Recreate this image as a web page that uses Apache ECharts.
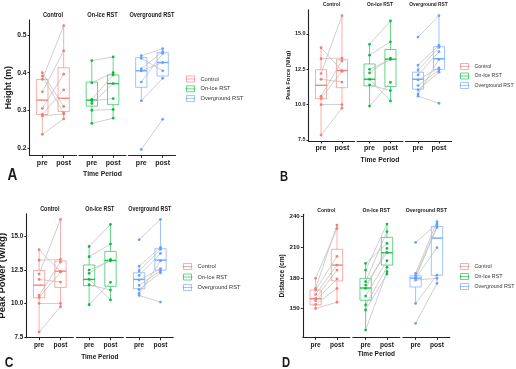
<!DOCTYPE html>
<html><head><meta charset="utf-8">
<script src="https://cdn.jsdelivr.net/npm/echarts@6/dist/echarts.min.js"></script>
<style>html,body{margin:0;padding:0;background:#fff}#c{width:516px;height:369px}</style>
</head><body><div id="c"></div>
<script>
// ---------- data ----------
const timePeriods = ['pre', 'post'];
const groupNames = ['Control', 'On-Ice RST', 'Overground RST'];

// Panel A: Height (m)  — paired subjects (pre[i] -> post[i])
const heightControlPre  = [0.382, 0.349, 0.400, 0.391, 0.305, 0.289, 0.285, 0.236];
const heightControlPost = [0.525, 0.458, 0.310, 0.293, 0.396, 0.354, 0.290, 0.277];
const heightIcePre      = [0.432, 0.373, 0.329, 0.325, 0.300, 0.265, 0.318];
const heightIcePost     = [0.442, 0.400, 0.394, 0.331, 0.302, 0.279, 0.371];
const heightOverPre     = [0.445, 0.438, 0.410, 0.405, 0.375, 0.325, 0.196];
const heightOverPost    = [0.464, 0.405, 0.456, 0.427, 0.451, 0.385, 0.276];
// box stats [min, Q1, median, Q3, max] (whiskers)
const heightControlPreBox  = [0.236, 0.289, 0.327, 0.382, 0.400];
const heightControlPostBox = [0.277, 0.297, 0.332, 0.413, 0.525];
const heightIcePreBox      = [0.265, 0.311, 0.327, 0.375, 0.432];
const heightIcePostBox     = [0.279, 0.315, 0.371, 0.394, 0.442];
const heightOverPreBox     = [0.325, 0.361, 0.405, 0.440, 0.445];
const heightOverPostBox    = [0.385, 0.391, 0.427, 0.453, 0.464];
const heightTicks = [0.2, 0.3, 0.4, 0.5];

// Panel B: Peak Force (N/kg)
const forceControlPre  = [14.03, 13.25, 12.2, 11.8, 10.6, 10.0, 7.85, 10.45];
const forceControlPost = [12.4, 13.3, 16.3, 11.6, 13.1, 10.0, 9.75, 12.35];
const forceIcePre      = [14.27, 13.5, 12.25, 11.8, 11.4, 9.9, 12.5];
const forceIcePost     = [15.92, 14.45, 13.3, 10.26, 11.0, 11.58, 13.2];
const forceOverPre     = [14.78, 12.8, 12.45, 12.1, 11.75, 11.35, 11.05, 10.75, 10.6];
const forceOverPost    = [16.3, 14.2, 14.05, 13.75, 12.6, 12.45, 12.3, 13.2, 10.1];
const forceControlPreBox  = [7.85, 10.42, 11.37, 12.47, 14.03];
const forceControlPostBox = [9.75, 11.2, 12.42, 13.18, 16.3];
const forceIcePreBox      = [9.9, 11.33, 11.8, 12.88, 14.27];
const forceIcePostBox     = [10.26, 11.28, 13.22, 13.9, 15.92];
const forceOverPreBox     = [10.6, 11.1, 11.8, 12.3, 12.8];
const forceOverPostBox    = [12.3, 12.5, 13.25, 14.1, 16.3];
const forceTicks = [7.5, 10, 12.5, 15];

// Panel C: Peak Power (W/kg)
const powerControlPre  = [14.03, 13.25, 12.2, 11.8, 10.6, 10.0, 7.85, 10.45];
const powerControlPost = [12.4, 13.3, 16.3, 11.6, 13.1, 10.0, 9.75, 12.35];
const powerIcePre      = [14.27, 13.5, 12.25, 11.8, 11.4, 9.9, 12.5];
const powerIcePost     = [15.92, 14.45, 13.3, 10.26, 11.0, 11.58, 13.2];
const powerOverPre     = [14.78, 12.8, 12.45, 12.1, 11.75, 11.35, 11.05, 10.75, 10.6];
const powerOverPost    = [16.3, 14.2, 14.05, 13.75, 12.6, 12.45, 12.3, 13.2, 10.1];
const powerControlPreBox  = [7.85, 10.42, 11.37, 12.47, 14.03];
const powerControlPostBox = [9.75, 11.2, 12.42, 13.18, 16.3];
const powerIcePreBox      = [9.9, 11.33, 11.8, 12.88, 14.27];
const powerIcePostBox     = [10.26, 11.28, 13.22, 13.9, 15.92];
const powerOverPreBox     = [10.6, 11.1, 11.8, 12.3, 12.8];
const powerOverPostBox    = [12.3, 12.5, 13.25, 14.1, 16.3];
const powerTicks = [7.5, 10, 12.5, 15];

// Panel D: Distance (cm)
const distControlPre  = [179.5, 169.6, 168, 163.7, 159.8, 157.5, 153.9, 150];
const distControlPost = [228.5, 231.8, 201, 192.5, 187.6, 179, 169.6, 156];
const distIcePre      = [194.2, 187.6, 176.2, 172.9, 169.6, 162.1, 153.3, 148.4, 128.7];
const distIcePost     = [213.8, 232.8, 225.3, 205, 208.9, 196.8, 190.3, 183.7, 186];
const distOverPre     = [214.8, 184.4, 182.1, 180.1, 179.5, 177.8, 154.9, 135.3];
const distOverPost    = [232.8, 235.1, 230.8, 229.5, 209.6, 179.5, 182.7, 174.5];
const distControlPreBox  = [150, 153.5, 159.5, 168, 179.5];
const distControlPostBox = [156, 177, 192.5, 208, 231.8];
const distIcePreBox      = [128.7, 158, 170, 179.5, 194.2];
const distIcePostBox     = [183.7, 192.5, 204.6, 219.7, 232.8];
const distOverPreBox     = [155, 171, 179.7, 182, 184.4];
const distOverPostBox    = [174.5, 182.5, 219, 230.5, 235.1];
const distTicks = [150, 180, 210, 240];

// ---------- styles / layout ----------
const FONT = '"Liberation Sans", Arial, sans-serif';
const COLORS = ['#F8766D', '#00BA38', '#619CFF'];
const BOX_COLORS = ['rgba(248,118,109,0.6)', 'rgba(0,186,56,0.6)', 'rgba(97,156,255,0.6)'];
const MED_COLORS = ['rgba(248,118,109,0.9)', 'rgba(0,186,56,0.9)', 'rgba(97,156,255,0.9)'];
const TEXT = '#1a1a1a';

const panels = [
  {letter: 'A', yName: 'Height (m)', ticks: heightTicks, dec: 1, ymin: 0.18, ymax: 0.54,
   top: 20, height: 135.4, lefts: [29.5, 79, 128.5], w: 47,
   tickFont: 6.7, xFont: 7, nameFont: 8.7, nameGap: 15.5, titleFont: 6.8, titleY: 15,
   xTitleY: 174, xTitleFont: 8, letterFont: 17, letterX: 12.5, letterY: 175,
   legendLeft: 185, legendTop: 75.5, legendGap: 2.8, legendFont: 5.7,
   sets: [[heightControlPre, heightControlPost, heightControlPreBox, heightControlPostBox],
          [heightIcePre, heightIcePost, heightIcePreBox, heightIcePostBox],
          [heightOverPre, heightOverPost, heightOverPreBox, heightOverPostBox]]},
  {letter: 'B', yName: 'Peak Force (N/kg)', ticks: forceTicks, dec: 1, ymin: 7.43, ymax: 16.72,
   top: 9.7, height: 131.3, lefts: [308.5, 357, 405.5], w: 46,
   tickFont: 5.4, xFont: 7, nameFont: 5.8, nameGap: 16, titleFont: 5.8, titleY: 4,
   xTitleY: 159.3, xTitleFont: 8, letterFont: 14, letterX: 284, letterY: 177,
   legendLeft: 459, legendTop: 63, legendGap: 2.5, legendFont: 5.2,
   sets: [[forceControlPre, forceControlPost, forceControlPreBox, forceControlPostBox],
          [forceIcePre, forceIcePost, forceIcePreBox, forceIcePostBox],
          [forceOverPre, forceOverPost, forceOverPreBox, forceOverPostBox]]},
  {letter: 'C', yName: 'Peak Power (W/kg)', ticks: powerTicks, dec: 1, ymin: 7.43, ymax: 16.72,
   top: 213.8, height: 123.9, lefts: [26.3, 76.3, 126.3], w: 47,
   tickFont: 6.3, xFont: 6.6, nameFont: 9.6, nameGap: 17, titleFont: 6.5, titleY: 209,
   xTitleY: 357.3, xTitleFont: 7.7, letterFont: 15, letterX: 9, letterY: 362.5,
   legendLeft: 182, legendTop: 263, legendGap: 3.5, legendFont: 5.7,
   sets: [[powerControlPre, powerControlPost, powerControlPreBox, powerControlPostBox],
          [powerIcePre, powerIcePost, powerIcePreBox, powerIcePostBox],
          [powerOverPre, powerOverPost, powerOverPreBox, powerOverPostBox]]},
  {letter: 'D', yName: 'Distance (cm)', ticks: distTicks, dec: 0, ymin: 121.5, ymax: 242.5,
   top: 214.2, height: 123.2, lefts: [302.8, 352.8, 402.8], w: 47,
   tickFont: 6.2, xFont: 6.6, nameFont: 6.6, nameGap: 17, titleFont: 6.2, titleY: 210,
   xTitleY: 354.3, xTitleFont: 7.7, letterFont: 14, letterX: 286, letterY: 363,
   legendLeft: 459, legendTop: 263, legendGap: 3, legendFont: 5.3,
   sets: [[distControlPre, distControlPost, distControlPreBox, distControlPostBox],
          [distIcePre, distIcePost, distIcePreBox, distIcePostBox],
          [distOverPre, distOverPost, distOverPreBox, distOverPostBox]]}
];

const BOX_W = 0.53;

function makeBoxRender(color, medColor) {
  return function (params, api) {
    const x = api.value(0);
    const lo = api.coord([x, api.value(1)]);
    const q1 = api.coord([x, api.value(2)]);
    const md = api.coord([x, api.value(3)]);
    const q3 = api.coord([x, api.value(4)]);
    const hi = api.coord([x, api.value(5)]);
    const half = api.size([BOX_W, 0])[0] / 2;
    const st = {stroke: color, lineWidth: 1, fill: null};
    return {type: 'group', children: [
      {type: 'line', shape: {x1: hi[0], y1: hi[1], x2: q3[0], y2: q3[1]}, style: st},
      {type: 'line', shape: {x1: q1[0], y1: q1[1], x2: lo[0], y2: lo[1]}, style: st},
      {type: 'rect', shape: {x: q3[0] - half, y: q3[1], width: half * 2, height: q1[1] - q3[1]}, style: st},
      {type: 'line', shape: {x1: md[0] - half, y1: md[1], x2: md[0] + half, y2: md[1]}, style: {stroke: medColor, lineWidth: 1.4}}
    ]};
  };
}

const option = {animation: false, backgroundColor: '#fff', grid: [], xAxis: [], yAxis: [], series: [], legend: [], graphic: {elements: []}};
const G = option.graphic.elements;

function addText(text, x, y, size, scaleX) {
  G.push({type: 'text', x: x, y: y, scaleX: scaleX || 0.83, silent: true,
    style: {text: text, x: 0, y: 0, textAlign: 'center', textVerticalAlign: 'middle',
      font: 'bold ' + size + 'px ' + FONT, fill: TEXT}});
}

panels.forEach(function (P) {
  P.sets.forEach(function (set, f) {
    const gi = option.grid.length;
    option.grid.push({left: P.lefts[f], top: P.top, width: P.w, height: P.height, outerBoundsMode: 'none', containLabel: false});
    option.xAxis.push({type: 'value', gridIndex: gi, min: 0.4, max: 2.6, splitLine: {show: false},
      axisLine: {show: true, onZero: false, lineStyle: {color: '#222', width: 1.1}},
      axisTick: {show: true, customValues: [1, 2], length: 2.5, lineStyle: {color: '#222', width: 1}},
      axisLabel: {show: true, customValues: [1, 2], margin: 4, fontSize: P.xFont, fontWeight: 'bold', fontFamily: FONT, color: TEXT,
        formatter: function (v) { return timePeriods[Math.round(v) - 1]; }}});
    const first = f === 0;
    option.yAxis.push({type: 'value', gridIndex: gi, min: P.ymin, max: P.ymax, splitLine: {show: false},
      show: first,
      name: first ? P.yName : '', nameLocation: 'middle', nameGap: P.nameGap,
      nameTextStyle: {fontSize: P.nameFont, fontWeight: 'bold', fontFamily: FONT, color: TEXT},
      axisLine: {show: first, onZero: false, lineStyle: {color: '#222', width: 1.1}},
      axisTick: {show: first, customValues: P.ticks, length: 2, lineStyle: {color: '#222'}},
      axisLabel: {show: first, customValues: P.ticks, margin: 3, fontSize: P.tickFont, fontWeight: 'bold', fontFamily: FONT, color: TEXT,
        formatter: function (v) { return v.toFixed(P.dec); }}});
    const pre = set[0], post = set[1], preBox = set[2], postBox = set[3];
    // boxes
    option.series.push({type: 'custom', name: groupNames[f], xAxisIndex: gi, yAxisIndex: gi, silent: true, z: 2,
      itemStyle: {color: COLORS[f]},
      renderItem: makeBoxRender(BOX_COLORS[f], MED_COLORS[f]),
      encode: {x: 0, y: [1, 2, 3, 4, 5]},
      data: [[1].concat(preBox), [2].concat(postBox)]});
    // paired lines
    option.series.push({type: 'lines', coordinateSystem: 'cartesian2d', xAxisIndex: gi, yAxisIndex: gi, silent: true, z: 3,
      lineStyle: {color: '#bcbcbc', width: 0.8, opacity: 0.9},
      data: pre.map(function (v, k) { return {coords: [[1, v], [2, post[k]]]}; })});
    // points
    option.series.push({type: 'scatter', xAxisIndex: gi, yAxisIndex: gi, silent: true, z: 4,
      symbolSize: 2.8, itemStyle: {color: COLORS[f], opacity: 0.95},
      data: pre.map(function (v) { return [1, v]; }).concat(post.map(function (v) { return [2, v]; }))});
    addText(groupNames[f], P.lefts[f] + P.w / 2, P.titleY, P.titleFont);
  });
  addText('Time Period', P.lefts[1] + P.w / 2, P.xTitleY, P.xTitleFont, 0.85);
  addText(P.letter, P.letterX, P.letterY, P.letterFont, 0.8);
  option.legend.push({left: P.legendLeft, top: P.legendTop, orient: 'vertical', itemWidth: 10, itemHeight: 6, itemGap: P.legendGap,
    selectedMode: false, padding: 0,
    textStyle: {fontSize: P.legendFont, fontFamily: FONT, color: '#333', lineHeight: 6},
    data: groupNames.map(function (g, k) {
      return {name: g, icon: 'path://M1,0H9V6H1ZM0,3H10',
        itemStyle: {color: 'rgba(0,0,0,0)', borderColor: BOX_COLORS[k], borderWidth: 1}};
    })});
});

const chart = echarts.init(document.getElementById('c'), null, {renderer: 'canvas', width: 516, height: 369});
chart.setOption(option);
</script>
</body></html>
